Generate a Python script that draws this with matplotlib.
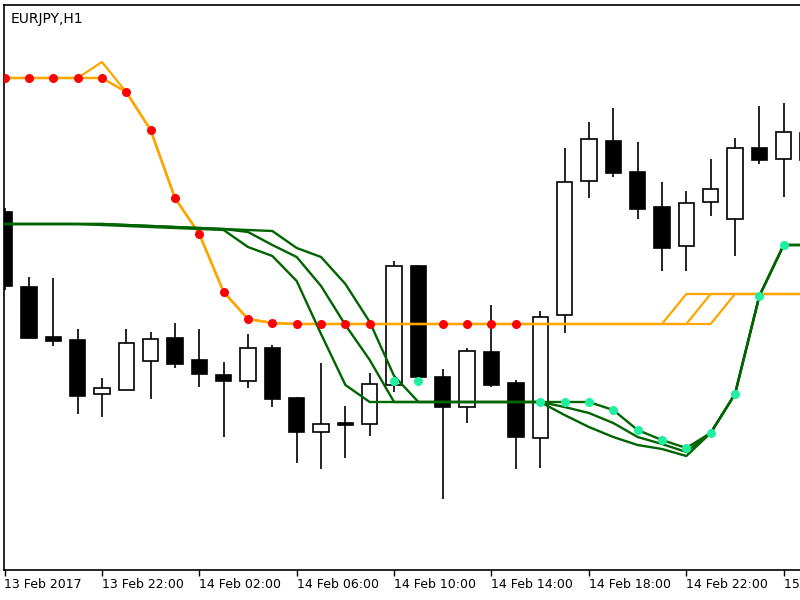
import numpy as np
import matplotlib.pyplot as plt

# EURJPY H1 candles, 13 Feb 18:00 .. 15 Feb 03:00
opens = [120.972, 120.672, 120.472, 120.460, 120.244, 120.260, 120.376, 120.468, 120.380, 120.320,
         120.296, 120.428, 120.228, 120.092, 120.128, 120.124, 120.280, 120.756, 120.312, 120.192,
         120.412, 120.288, 120.068, 120.560, 121.096, 121.256, 121.132, 120.992, 120.836, 121.012,
         120.944, 121.228, 121.184, 121.180]
highs = [120.988, 120.712, 120.708, 120.504, 120.308, 120.504, 120.492, 120.528, 120.504, 120.372,
         120.484, 120.440, 120.232, 120.368, 120.196, 120.328, 120.776, 120.760, 120.344, 120.428,
         120.600, 120.300, 120.576, 121.228, 121.332, 121.388, 121.252, 121.092, 121.056, 121.184,
         121.268, 121.396, 121.408, 121.340]
lows = [120.660, 120.464, 120.436, 120.164, 120.152, 120.260, 120.224, 120.348, 120.272, 120.072,
        120.268, 120.192, 119.968, 119.944, 119.988, 120.076, 120.252, 120.312, 119.824, 120.128,
        120.272, 119.944, 119.948, 120.488, 121.028, 121.112, 120.944, 120.736, 120.736, 120.956,
        120.796, 121.164, 121.032, 121.140]
closes = [120.676, 120.468, 120.456, 120.236, 120.268, 120.448, 120.464, 120.364, 120.324, 120.296,
          120.428, 120.224, 120.092, 120.124, 120.120, 120.284, 120.756, 120.312, 120.192, 120.416,
          120.280, 120.072, 120.552, 121.092, 121.264, 121.128, 120.984, 120.828, 121.008, 121.064,
          121.228, 121.180, 121.292, 121.288]

# orange stop lines (three variants)
stop1 = [121.508, 121.508, 121.508, 121.508, 121.508, 121.452, 121.300, 121.028, 120.884, 120.652,
         120.544, 120.528, 120.524, 120.524, 120.524, 120.524, 120.524, 120.524, 120.524, 120.524,
         120.524, 120.524, 120.524, 120.524, 120.524, 120.524, 120.524, 120.524, 120.644, 120.644,
         120.644, 120.644, 120.644, 120.644]
stop2 = [121.508, 121.508, 121.508, 121.508, 121.572, 121.452, 121.300, 121.028, 120.884, 120.652,
         120.544, 120.528, 120.524, 120.524, 120.524, 120.524, 120.524, 120.524, 120.524, 120.524,
         120.524, 120.524, 120.524, 120.524, 120.524, 120.524, 120.524, 120.524, 120.524, 120.644,
         120.644, 120.644, 120.644, 120.644]
stop3 = [121.508, 121.508, 121.508, 121.508, 121.508, 121.452, 121.300, 121.028, 120.884, 120.652,
         120.544, 120.528, 120.524, 120.524, 120.524, 120.524, 120.524, 120.524, 120.524, 120.524,
         120.524, 120.524, 120.524, 120.524, 120.524, 120.524, 120.524, 120.524, 120.524, 120.524,
         120.644, 120.644, 120.644, 120.644]
red_bars = [0, 1, 2, 3, 4, 5, 6, 7, 8, 9, 10, 11, 12, 13, 14, 15, 18, 19, 20, 21]

# green lines
green_a = [120.924, 120.924, 120.924, 120.924, 120.920, 120.916, 120.912, 120.908, 120.904, 120.900,
           120.832, 120.796, 120.696, 120.484, 120.280, 120.212, 120.212, 120.212, 120.212, 120.212,
           120.212, 120.212, 120.212, 120.160, 120.112, 120.072, 120.040, 120.024, 119.996, 120.088,
           120.244, 120.636, 120.840, 120.840]
green_b = [120.924, 120.924, 120.924, 120.924, 120.924, 120.920, 120.916, 120.912, 120.908, 120.904,
           120.892, 120.840, 120.792, 120.676, 120.520, 120.380, 120.212, 120.212, 120.212, 120.212,
           120.212, 120.212, 120.212, 120.192, 120.168, 120.128, 120.072, 120.044, 120.012, 120.088,
           120.244, 120.636, 120.840, 120.840]
green_c = [120.924, 120.924, 120.924, 120.924, 120.924, 120.920, 120.916, 120.912, 120.908, 120.904,
           120.900, 120.896, 120.828, 120.792, 120.684, 120.532, 120.316, 120.212, 120.212, 120.212,
           120.212, 120.212, 120.212, 120.212, 120.212, 120.180, 120.100, 120.060, 120.028, 120.088,
           120.244, 120.636, 120.840, 120.840]
cyan_bars = [16, 17, 22, 23, 24, 25, 26, 27, 28, 29, 30, 31, 32]
cyan_vals = [120.296, 120.296, 120.212, 120.212, 120.212, 120.180, 120.100, 120.060, 120.028, 120.088,
             120.244, 120.636, 120.840]

tick_bars = [0, 4, 8, 12, 16, 20, 24, 28, 32]
tick_labels = ["13 Feb 2017", "13 Feb 22:00", "14 Feb 02:00", "14 Feb 06:00", "14 Feb 10:00",
               "14 Feb 14:00", "14 Feb 18:00", "14 Feb 22:00", "15 Feb 02:00"]

fig = plt.figure(figsize=(8, 6), dpi=100)
ax = fig.add_axes([4 / 800, 30 / 600, 796 / 800, 565 / 600])

x = np.arange(len(opens))
o = np.array(opens)
c = np.array(closes)
bull = c >= o

# candles
ax.vlines(x, lows, highs, color="black", linewidth=1.2, zorder=1)
body_h = np.maximum(np.abs(c - o), 0.004)
ax.bar(x, body_h, bottom=np.minimum(o, c), width=0.63,
       color=np.where(bull, "white", "black"), edgecolor="black", linewidth=1.2, zorder=2)

# indicators
orange = "#FFA500"
for s in (stop3, stop2, stop1):
    ax.plot(x, s, color=orange, linewidth=1.6, zorder=3)
ax.plot(red_bars, [stop1[i] for i in red_bars], "o", color="#FF0000", markersize=6.5,
        markeredgewidth=0, zorder=5)

green = "#006400"
for g in (green_a, green_b, green_c):
    ax.plot(x, g, color=green, linewidth=1.7, zorder=4)
ax.plot(cyan_bars, cyan_vals, "o", color="#1EF0A0", markersize=6.5, markeredgewidth=0, zorder=5)

ax.set_xlim(-0.5 / 24.35, 795.5 / 24.35)
ax.set_ylim(119.54, 121.80)

# the last label runs off the right edge, as in the original window
ax.set_xticks(tick_bars)
ax.set_xticklabels(tick_labels, ha="left", fontsize=9)
ax.tick_params(axis="x", direction="out", length=4, width=1, pad=1.5)
ax.set_yticks([])
ax.spines["right"].set_visible(False)
for sp in ("left", "top", "bottom"):
    ax.spines[sp].set_linewidth(1.2)

ax.text(0.008, 0.988, "EURJPY,H1", transform=ax.transAxes, fontsize=10, va="top", ha="left")

fig.savefig("out.png", dpi=100)
